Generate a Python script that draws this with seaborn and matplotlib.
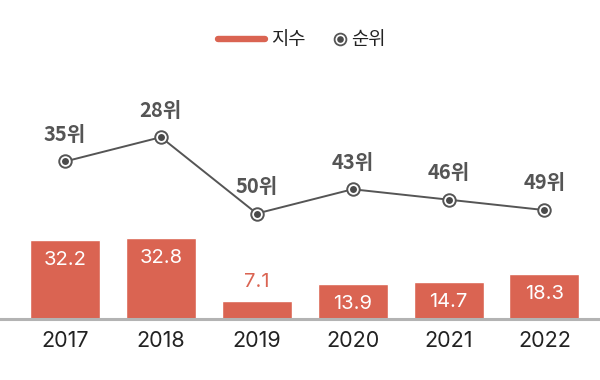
import numpy as np
import pandas as pd
import matplotlib
matplotlib.use("Agg")
import matplotlib.pyplot as plt
from matplotlib.lines import Line2D
from matplotlib.legend_handler import HandlerTuple
import seaborn as sns

YEARS = ["2017", "2018", "2019", "2020", "2021", "2022"]
INDEX_VALUES = [32.2, 32.8, 7.1, 13.9, 14.7, 18.3]
RANKS = [35, 28, 50, 43, 46, 49]

RED = "#DA6452"
GRAY = "#555555"
KR = ["Noto Sans CJK KR", "DejaVu Sans"]
LAT = ["Inter", "DejaVu Sans"]

sns.set_theme(style="white")
plt.rcParams["font.family"] = KR

df = pd.DataFrame({"year": YEARS, "index": INDEX_VALUES, "rank": RANKS})

fig = plt.figure(figsize=(6, 3.8), dpi=100)
bottom = 61.5 / 380
top = 1 - 40 / 380
ax = fig.add_axes([0, bottom, 1, top - bottom])

sns.barplot(data=df, x="year", y="index", color=RED, saturation=1,
            width=0.73, ax=ax, errorbar=None)
ax.set_ylim(0, 278.5 / 2.45)

ax2 = ax.twinx()
sns.pointplot(data=df, x="year", y="rank", ax=ax2, color=GRAY, errorbar=None,
              markers="o", lw=1.4, markersize=9, markerfacecolor="white",
              markeredgecolor=GRAY, markeredgewidth=1.4)
xs = np.arange(len(YEARS))
ax2.plot(xs, RANKS, ls="none", marker="o", ms=5, mfc="#4a4a4a", mec="none", zorder=4)
ax2.set_ylim(80.24, 0)

for a in (ax, ax2):
    a.set_xlim(-0.678, 5.58)
    a.set_xlabel("")
    a.set_ylabel("")
    for s in ("top", "left", "right"):
        a.spines[s].set_visible(False)
    a.grid(False)
ax2.spines["bottom"].set_visible(False)
ax2.set_yticks([])
ax2.tick_params(axis="x", length=0, labelbottom=False)
ax.set_yticks([])
ax.spines["bottom"].set_color("#b3b3b3")
ax.spines["bottom"].set_linewidth(2.2)
ax.tick_params(axis="x", length=0, pad=9)
for lbl in ax.get_xticklabels():
    lbl.set_fontfamily(LAT)
    lbl.set_fontsize(15.5)
    lbl.set_color("#222222")

for i, v in enumerate(INDEX_VALUES):
    if v < 10:
        ax.annotate(f"{v}", (i, v), xytext=(0, 14), textcoords="offset points",
                    ha="center", va="center", fontsize=14.5, color=RED, family=LAT)
    else:
        ax.annotate(f"{v}", (i, v), xytext=(0, -14.4), textcoords="offset points",
                    ha="center", va="center", fontsize=14.5, color="white", family=LAT)

for i, r in enumerate(RANKS):
    ax2.annotate(f"{r}위", (i, r), xytext=(0, 19.5), textcoords="offset points",
                 ha="center", va="center", fontsize=14.5, fontweight="heavy",
                 color=GRAY, family=KR)

h1 = Line2D([], [], color=RED, lw=4.6)
ring = Line2D([], [], ls="none", marker="o", ms=8.5, mfc="white", mec=GRAY, mew=1.3)
dot = Line2D([], [], ls="none", marker="o", ms=4.8, mfc="#4a4a4a", mec="none")
leg_y = 1 - 40 / 380
l1 = fig.legend([h1], ["지수"], loc="center left", bbox_to_anchor=(218 / 600, leg_y),
                frameon=False, prop={"family": KR, "size": 13.5, "weight": "medium"},
                handlelength=2.5, handletextpad=0.35, borderpad=0, borderaxespad=0)
l2 = fig.legend([(ring, dot)], ["순위"], loc="center left",
                bbox_to_anchor=(333 / 600, leg_y), frameon=False,
                prop={"family": KR, "size": 13.5, "weight": "medium"},
                handlelength=0.7, handletextpad=0.25, borderpad=0, borderaxespad=0,
                handler_map={tuple: HandlerTuple(ndivide=1)})
for l in (l1, l2):
    for t in l.get_texts():
        t.set_color("#222222")

fig.savefig("out.png", dpi=100)
